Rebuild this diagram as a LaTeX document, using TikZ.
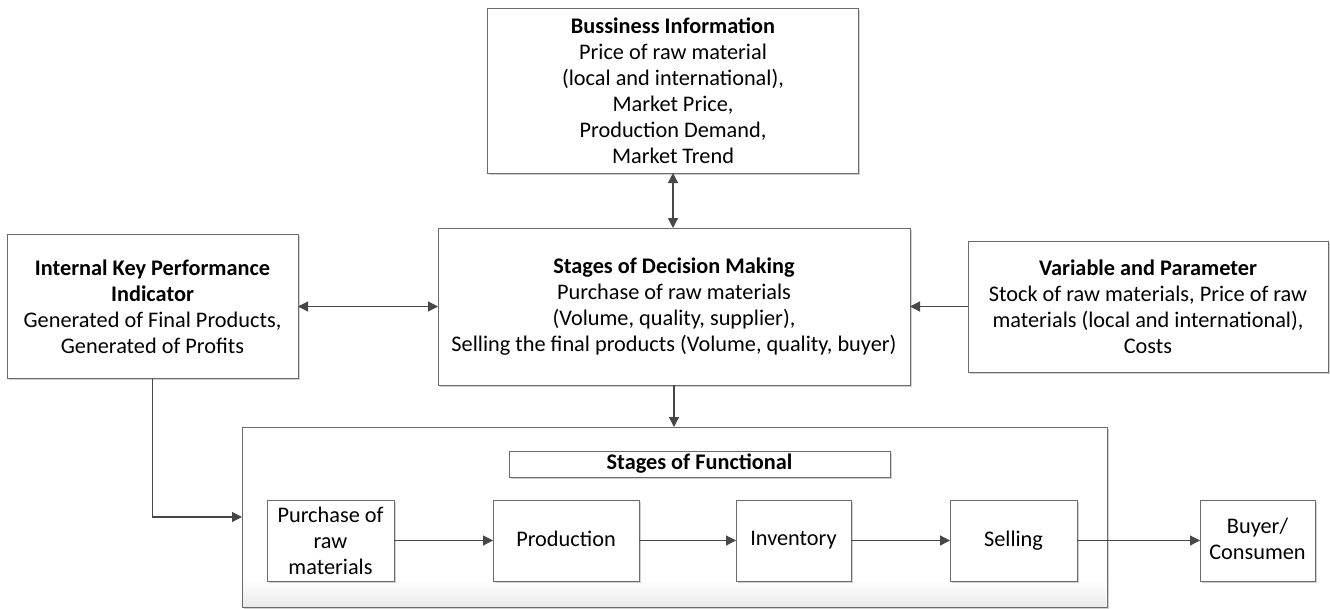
\documentclass[tikz,border=0pt]{standalone}
\usepackage{fontspec}
\setmainfont{Carlito}
\usetikzlibrary{arrows.meta,shadows,calc}
\begin{document}
\begin{tikzpicture}[x=1pt,y=-1pt,
  font=\fontsize{22.3}{26}\selectfont,
  box/.style={draw=black!58, line width=0.9pt, fill=white, align=center, inner sep=0pt, outer sep=0pt,
    general shadow={fill=black!18, shadow xshift=1.6pt, shadow yshift=-1.6pt}},
  arr/.style={draw=black!72, line width=1.2pt, -{Triangle[length=10pt,width=10pt]}},
  darr/.style={draw=black!72, line width=1.2pt, {Triangle[length=10pt,width=10pt]}-{Triangle[length=10pt,width=10pt]}}
]
\useasboundingbox (0,0) rectangle (1330,608);

% container
\node[box, minimum width=865pt, minimum height=180pt] (func) at (674.5,517) {};
\shade[top color=white, bottom color=black!8]
  ($(func.south west)+(1,-28)$) rectangle ($(func.south east)+(-1,-1)$);
\draw[black!58, line width=0.9pt] (func.south west) rectangle (func.north east);

\node[box, minimum width=371pt, minimum height=165pt] (biz) at (673,90.5)
 {\textbf{Bussiness Information}\\Price of raw material\\(local and international),\\Market Price,\\Production Demand,\\Market Trend};

\node[box, minimum width=472pt, minimum height=157pt] (dec) at (674,306.5)
 {\textbf{Stages of Decision Making}\\Purchase of raw materials\\(Volume, quality, supplier),\\Selling the final products (Volume, quality, buyer)};

\node[box, minimum width=291pt, minimum height=144pt] (kpi) at (152.5,306.5)
 {\textbf{Internal Key Performance}\\\textbf{Indicator}\\Generated of Final Products,\\Generated of Profits};

\node[box, minimum width=360pt, minimum height=131pt] (var) at (1148,306.5)
 {\textbf{Variable and Parameter}\\Stock of raw materials, Price of raw\\materials (local and international),\\Costs};

\node[box, minimum width=381pt, minimum height=26pt] (title) at (699.5,464)
 {\vphantom{Ay}\textbf{Stages of Functional}};

\node[box, minimum width=127pt, minimum height=81pt] (pur) at (330.5,540.5) {Purchase of\\raw\\materials};
\node[box, minimum width=146pt, minimum height=81pt] (prod) at (566,540.5) {\vphantom{Ay}Production};
\node[box, minimum width=115pt, minimum height=81pt] (inv) at (793.5,540.5) {\vphantom{Ay}Inventory};
\node[box, minimum width=127pt, minimum height=81pt] (sell) at (1013.5,540.5) {\vphantom{Ay}Selling};
\node[box, minimum width=115pt, minimum height=81pt] (buy) at (1257.5,540.5) {\vphantom{Ay}Buyer/\\Consumen\vphantom{Ay}};

% connectors
\draw[darr] (biz.south) -- (biz.south |- dec.north);
\draw[darr] (kpi.east) -- (kpi.east -| dec.west);
\draw[arr] (var.west) -- (var.west -| dec.east);
\draw[arr] (dec.south) -- (dec.south |- func.north);
\draw[arr] (kpi.south) |- (func.west);
\draw[arr] (pur) -- (prod);
\draw[arr] (prod) -- (inv);
\draw[arr] (inv) -- (sell);
\draw[arr] (sell) -- (buy);
\end{tikzpicture}
\end{document}
